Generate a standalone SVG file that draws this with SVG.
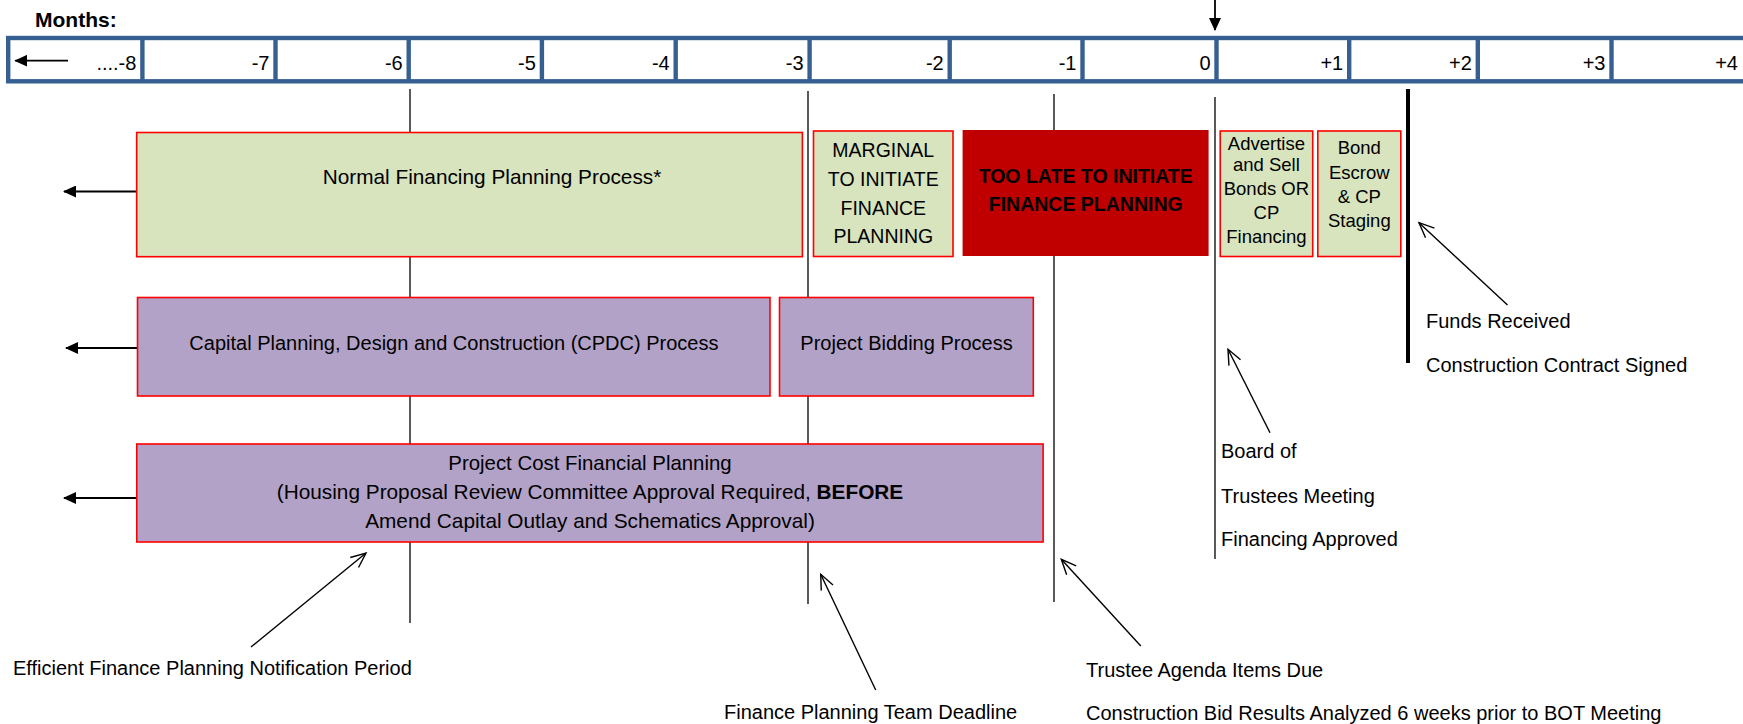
<svg xmlns="http://www.w3.org/2000/svg" width="1743" height="724" viewBox="0 0 1743 724">
<style>
text { font-family: "Liberation Sans", Arial, sans-serif; fill: #000; font-size: 20px; }
.num { text-anchor: end; }
.c { text-anchor: middle; }
.b { font-weight: bold; }
.vline { stroke: #000; stroke-width: 1.3; fill: none; }
.green { fill: #D7E4BD; stroke: #FF0000; stroke-width: 1.6; }
.purple { fill: #B3A2C7; stroke: #FF0000; stroke-width: 1.6; }
.late { fill: #C00000; }
.ann { stroke: #000; stroke-width: 1.4; fill: none; marker-end: url(#open); }
.solid { stroke: #000; stroke-width: 1.8; fill: none; marker-end: url(#solid); }
.div { stroke: #376092; stroke-width: 4.4; }
.small { font-size: 18.5px; }
.mid { font-size: 19.5px; }
.big { font-size: 20.8px; }
</style>
<defs>
<marker id="solid" markerUnits="userSpaceOnUse" viewBox="0 0 13 12" markerWidth="13" markerHeight="12" refX="12" refY="6" orient="auto"><path d="M0,0 L13,6 L0,12 z" fill="#000"/></marker>
<marker id="open" markerUnits="userSpaceOnUse" viewBox="-17 -8 19 16" refX="0" refY="0" markerWidth="19" markerHeight="16" orient="auto"><path d="M-15,-6.5 L0,0 L-15,6.5" fill="none" stroke="#000" stroke-width="1.4"/></marker>
</defs>
<rect width="1743" height="724" fill="#FFFFFF"/>

<g id="timeline">
<text x="35" y="27" class="b" style="font-size:21px">Months:</text>
<rect x="8.2" y="38" width="1760" height="43.3" fill="#FFFFFF" stroke="#376092" stroke-width="4.4"/>
<line class="div" x1="142.4" y1="38" x2="142.4" y2="81.3"/>
<line class="div" x1="275.5" y1="38" x2="275.5" y2="81.3"/>
<line class="div" x1="408.7" y1="38" x2="408.7" y2="81.3"/>
<line class="div" x1="541.9" y1="38" x2="541.9" y2="81.3"/>
<line class="div" x1="675.7" y1="38" x2="675.7" y2="81.3"/>
<line class="div" x1="809.6" y1="38" x2="809.6" y2="81.3"/>
<line class="div" x1="949.7" y1="38" x2="949.7" y2="81.3"/>
<line class="div" x1="1082.5" y1="38" x2="1082.5" y2="81.3"/>
<line class="div" x1="1216.5" y1="38" x2="1216.5" y2="81.3"/>
<line class="div" x1="1349.2" y1="38" x2="1349.2" y2="81.3"/>
<line class="div" x1="1477.8" y1="38" x2="1477.8" y2="81.3"/>
<line class="div" x1="1611.5" y1="38" x2="1611.5" y2="81.3"/>
<text class="num" x="136.4" y="69.5">....-8</text>
<text class="num" x="269.5" y="69.5">-7</text>
<text class="num" x="402.7" y="69.5">-6</text>
<text class="num" x="535.9" y="69.5">-5</text>
<text class="num" x="669.7" y="69.5">-4</text>
<text class="num" x="803.6" y="69.5">-3</text>
<text class="num" x="943.7" y="69.5">-2</text>
<text class="num" x="1076.5" y="69.5">-1</text>
<text class="num" x="1210.5" y="69.5">0</text>
<text class="num" x="1343.2" y="69.5">+1</text>
<text class="num" x="1471.8" y="69.5">+2</text>
<text class="num" x="1605.5" y="69.5">+3</text>
<text class="num" x="1738" y="69.5">+4</text>
</g>

<g id="connectors">
<line class="solid" x1="68" y1="60.7" x2="15.3" y2="60.7"/>
<line class="solid" x1="1215" y1="0" x2="1215" y2="30"/>
<line class="vline" x1="410" y1="89" x2="410" y2="623"/>
<line class="vline" x1="808" y1="91" x2="808" y2="604"/>
<line class="vline" x1="1054" y1="94" x2="1054" y2="602"/>
<line class="vline" x1="1215" y1="97" x2="1215" y2="559"/>
<line x1="1408" y1="89" x2="1408" y2="363" stroke="#000" stroke-width="4"/>
<line class="solid" x1="137" y1="191.5" x2="64" y2="191.5"/>
<line class="solid" x1="137" y1="348" x2="66" y2="348"/>
<line class="solid" x1="136" y1="498" x2="64" y2="498"/>
<line class="ann" x1="251" y1="647" x2="366" y2="553"/>
<line class="ann" x1="875.7" y1="690" x2="820.7" y2="574.3"/>
<line class="ann" x1="1140.8" y1="646" x2="1061.3" y2="559.3"/>
<line class="ann" x1="1270" y1="432.7" x2="1228" y2="349.3"/>
<line class="ann" x1="1507.5" y1="305" x2="1419" y2="222.7"/>
</g>

<g id="normal-financing">
<rect class="green" x="136.7" y="132.5" width="665.7" height="124.2"/>
<text class="c big" x="492" y="184">Normal Financing Planning Process*</text>
</g>

<g id="marginal">
<rect class="green" x="813.5" y="131" width="139.5" height="125.5"/>
<text class="c mid" x="883.3" y="157.3">MARGINAL</text>
<text class="c mid" x="883.3" y="186">TO INITIATE</text>
<text class="c mid" x="883.3" y="214.5">FINANCE</text>
<text class="c mid" x="883.3" y="243">PLANNING</text>
</g>

<g id="too-late">
<rect class="late" x="962.6" y="130" width="246" height="126"/>
<text class="c b mid" x="1085.7" y="183.3">TOO LATE TO INITIATE</text>
<text class="c b mid" x="1085.7" y="211">FINANCE PLANNING</text>
</g>

<g id="advertise">
<rect class="green" x="1220.2" y="131" width="92.5" height="125.5"/>
<text class="c small" x="1266.4" y="150">Advertise</text>
<text class="c small" x="1266.4" y="170.5">and Sell</text>
<text class="c small" x="1266.4" y="194.5">Bonds OR</text>
<text class="c small" x="1266.4" y="219">CP</text>
<text class="c small" x="1266.4" y="243">Financing</text>
</g>

<g id="bond-escrow">
<rect class="green" x="1317.8" y="131" width="83" height="125.5"/>
<text class="c small" x="1359.3" y="154.3">Bond</text>
<text class="c small" x="1359.3" y="179">Escrow</text>
<text class="c small" x="1359.3" y="203.3">&amp; CP</text>
<text class="c small" x="1359.3" y="227">Staging</text>
</g>

<g id="cpdc">
<rect class="purple" x="137.5" y="297.5" width="632.5" height="98.5"/>
<text class="c" x="453.9" y="350">Capital Planning, Design and Construction (CPDC) Process</text>
</g>

<g id="bidding">
<rect class="purple" x="779.5" y="297.5" width="253.8" height="98.5"/>
<text class="c" x="906.5" y="350">Project Bidding Process</text>
</g>

<g id="project-cost">
<rect class="purple" x="136.8" y="444" width="906.3" height="98"/>
<text class="c" x="590" y="470" style="font-size:20.4px">Project Cost Financial Planning</text>
<text class="c big" x="590" y="499">(Housing Proposal Review Committee Approval Required, <tspan class="b">BEFORE</tspan></text>
<text class="c big" x="590" y="528">Amend Capital Outlay and Schematics Approval)</text>
</g>

<g id="efficient-label">
<text x="13" y="675">Efficient Finance Planning Notification Period</text>
</g>
<g id="team-deadline-label">
<text x="724" y="719">Finance Planning Team Deadline</text>
</g>
<g id="trustee-label">
<text x="1086" y="676.5">Trustee Agenda Items Due</text>
<text x="1086" y="719.5">Construction Bid Results Analyzed 6 weeks prior to BOT Meeting</text>
</g>
<g id="board-label">
<text x="1221" y="458.3">Board of</text>
<text x="1221" y="503.3">Trustees Meeting</text>
<text x="1221" y="546">Financing Approved</text>
</g>
<g id="funds-label">
<text x="1426" y="327.7">Funds Received</text>
<text x="1426" y="371.7">Construction Contract Signed</text>
</g>
</svg>
